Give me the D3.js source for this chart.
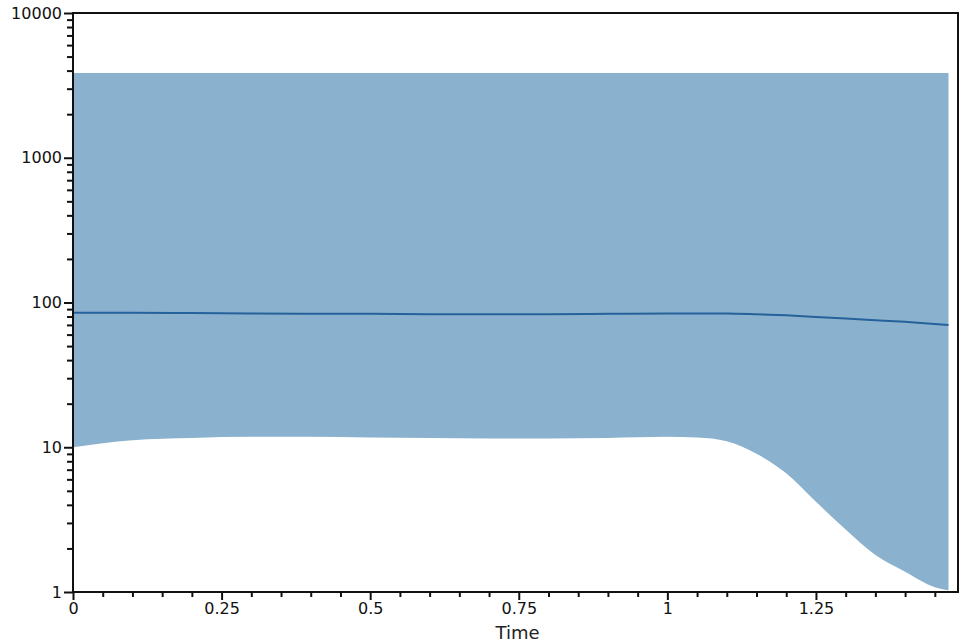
<!DOCTYPE html>
<html><head><meta charset="utf-8">
<script src="https://cdn.jsdelivr.net/npm/d3@7"></script>
<style>body{margin:0;background:#fff;}svg{display:block;}</style>
</head><body>
<svg id="chart" width="964" height="644"></svg>
<script>
const timePoints = [0, 0.1, 0.2, 0.3, 0.4, 0.5, 0.6, 0.7, 0.8, 0.9, 1.0, 1.05, 1.1, 1.15, 1.2, 1.25, 1.3, 1.35, 1.4, 1.45, 1.473];
const medianValues = [85, 85, 84.5, 84, 83.5, 83.5, 83, 83, 83, 83.5, 84, 84, 84, 83, 81.5, 79.5, 77.5, 75.5, 73.5, 71, 70];
const lowerValues = [10, 11.2, 11.6, 11.8, 11.8, 11.7, 11.6, 11.5, 11.5, 11.6, 11.8, 11.7, 11.0, 9.0, 6.6, 4.2, 2.7, 1.8, 1.38, 1.08, 1.03];
const upperValues = [3850, 3850, 3850, 3850, 3850, 3850, 3850, 3850, 3850, 3850, 3850, 3850, 3850, 3850, 3850, 3850, 3850, 3850, 3850, 3850, 3850];
const xMajorTicks = [0, 0.25, 0.5, 0.75, 1, 1.25];
const xTickLabels = ["0", "0.25", "0.5", "0.75", "1", "1.25"];
const yMajorTicks = [1, 10, 100, 1000, 10000];
const yTickLabels = ["1", "10", "100", "1000", "10000"];
const xTitle = "Time";

const data = timePoints.map((t, i) => ({t, med: medianValues[i], lo: lowerValues[i], hi: upperValues[i]}));

const svg = d3.select("#chart");
const L = 73, R = 958, T = 13, B = 592;
const x = d3.scaleLinear().domain([0, 1.489]).range([L, R]);
const y = d3.scaleLog().domain([1, 10000]).range([B, T]);

const area = d3.area().x(d => x(d.t)).y0(d => y(d.lo)).y1(d => y(d.hi)).curve(d3.curveMonotoneX);
svg.append("path").datum(data).attr("d", area).attr("fill", "#8ab2ce");
const line = d3.line().x(d => x(d.t)).y(d => y(d.med)).curve(d3.curveMonotoneX);
svg.append("path").datum(data).attr("d", line).attr("fill", "none").attr("stroke", "#25619a").attr("stroke-width", 2);

// frame
svg.append("rect").attr("x", L).attr("y", T).attr("width", R - L).attr("height", B - T)
  .attr("fill", "none").attr("stroke", "#111").attr("stroke-width", 2);

const font = "DejaVu Sans, Verdana, sans-serif";
// y axis
const yMinor = [];
for (let e = 0; e < 4; e++) for (let k = 2; k <= 9; k++) yMinor.push(k * Math.pow(10, e));
const yAxisMajor = d3.axisLeft(y).tickValues(yMajorTicks).tickFormat((d, i) => yTickLabels[i]).tickSize(9).tickPadding(2);
const gy = svg.append("g").attr("transform", `translate(${L},0)`).call(yAxisMajor);
gy.select(".domain").remove();
gy.selectAll("line").attr("stroke", "#111").attr("stroke-width", 2);
gy.selectAll("text").attr("font-family", font).attr("font-size", 16).attr("fill", "#111");
const gyMinor = svg.append("g").attr("transform", `translate(${L},0)`).call(d3.axisLeft(y).tickValues(yMinor).tickFormat("").tickSize(6));
gyMinor.select(".domain").remove();
gyMinor.selectAll("line").attr("stroke", "#111").attr("stroke-width", 2);

// x axis
const xMinor = d3.range(0.05, 1.46, 0.05).filter(v => Math.abs(v / 0.25 - Math.round(v / 0.25)) > 1e-6);
const gx = svg.append("g").attr("transform", `translate(0,${B})`)
  .call(d3.axisBottom(x).tickValues(xMajorTicks).tickFormat((d, i) => xTickLabels[i]).tickSize(8).tickPadding(3));
gx.select(".domain").remove();
gx.selectAll("line").attr("stroke", "#111").attr("stroke-width", 2);
gx.selectAll("text").attr("font-family", font).attr("font-size", 16).attr("fill", "#111");
const gxMinor = svg.append("g").attr("transform", `translate(0,${B})`)
  .call(d3.axisBottom(x).tickValues(xMinor).tickFormat("").tickSize(5));
gxMinor.select(".domain").remove();
gxMinor.selectAll("line").attr("stroke", "#111").attr("stroke-width", 2);

svg.append("text").attr("x", (L + R) / 2 + 2).attr("y", 639).attr("text-anchor", "middle")
  .attr("font-family", font).attr("font-size", 18).attr("fill", "#222").text(xTitle);
</script>
</body></html>
